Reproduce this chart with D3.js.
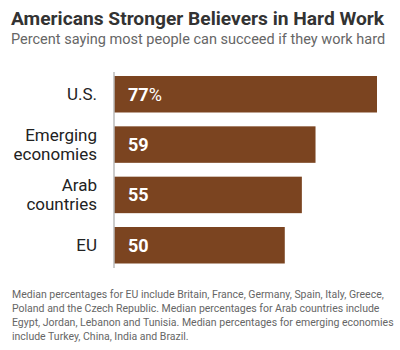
<!DOCTYPE html>
<html>
<head>
<meta charset="utf-8">
<script src="https://cdn.jsdelivr.net/npm/d3@7"></script>
<style>
  body { margin: 0; background: #fff; }
  svg { display: block; font-family: "Roboto", "Liberation Sans", sans-serif; }
</style>
</head>
<body>
<svg id="chart" width="400" height="350"></svg>
<script>
// data
var categories = [["U.S."], ["Emerging", "economies"], ["Arab", "countries"], ["EU"]];
var values = [77, 59, 55, 50];
var valueLabels = ["77", "59", "55", "50"];
var noteLines = [
  "Median percentages for EU include Britain, France, Germany, Spain, Italy, Greece,",
  "Poland and the Czech Republic. Median percentages for Arab countries include",
  "Egypt, Jordan, Lebanon and Tunisia. Median percentages for emerging economies",
  "include Turkey, China, India and Brazil."
];

var svg = d3.select('#chart');
var barColor = '#7b4420';

var x = d3.scaleLinear().domain([0, 77]).range([114, 377]);
var y = d3.scaleBand()
  .domain(d3.range(values.length))
  .range([76, 263.5])
  .paddingInner(0.275)
  .paddingOuter(0);

// title + subtitle
svg.append('text')
  .attr('x', 11).attr('y', 25)
  .style('font-size', '19.2px').style('font-weight', 'bold')
  .style('fill', '#333')
  .text('Americans Stronger Believers in Hard Work');
svg.append('text')
  .attr('x', 11).attr('y', 44)
  .style('font-size', '14.5px')
  .style('fill', '#666')
  .text('Percent saying most people can succeed if they work hard');

// bars
svg.selectAll('rect.bar')
  .data(values)
  .enter().append('rect')
  .attr('class', 'bar')
  .attr('x', x(0))
  .attr('y', (d, i) => y(i))
  .attr('width', d => x(d) - x(0))
  .attr('height', y.bandwidth())
  .style('fill', barColor);

// axis line
svg.append('line')
  .attr('x1', x(0)).attr('x2', x(0))
  .attr('y1', 72).attr('y2', 268)
  .style('stroke', '#bbb')
  .style('stroke-width', 1.5);

// category labels
categories.forEach(function(lines, i) {
  var cy = y(i) + y.bandwidth() / 2;
  var t = svg.append('text')
    .attr('text-anchor', 'end')
    .style('font-size', '17px')
    .style('fill', '#222');
  lines.forEach(function(l, j) {
    t.append('tspan')
      .attr('x', 97)
      .attr('y', cy + 6 + (j - (lines.length - 1) / 2) * 19)
      .text(l);
  });
});

// value labels
svg.selectAll('text.val')
  .data(values)
  .enter().append('text')
  .attr('class', 'val')
  .attr('x', x(0) + 14)
  .attr('y', (d, i) => y(i) + y.bandwidth() / 2 + 6.5)
  .style('font-size', '18px')
  .style('font-weight', 'bold')
  .style('fill', '#fff')
  .each(function(d, i) {
    d3.select(this).append('tspan').text(valueLabels[i]);
    if (i === 0) d3.select(this).append('tspan').style('font-weight', 'normal').text('%');
  });

// note
svg.append('g').selectAll('text')
  .data(noteLines)
  .enter().append('text')
  .attr('x', 12)
  .attr('y', (d, i) => 298 + i * 14)
  .style('font-size', '10.5px')
  .style('fill', '#666')
  .text(d => d);
</script>
</body>
</html>
